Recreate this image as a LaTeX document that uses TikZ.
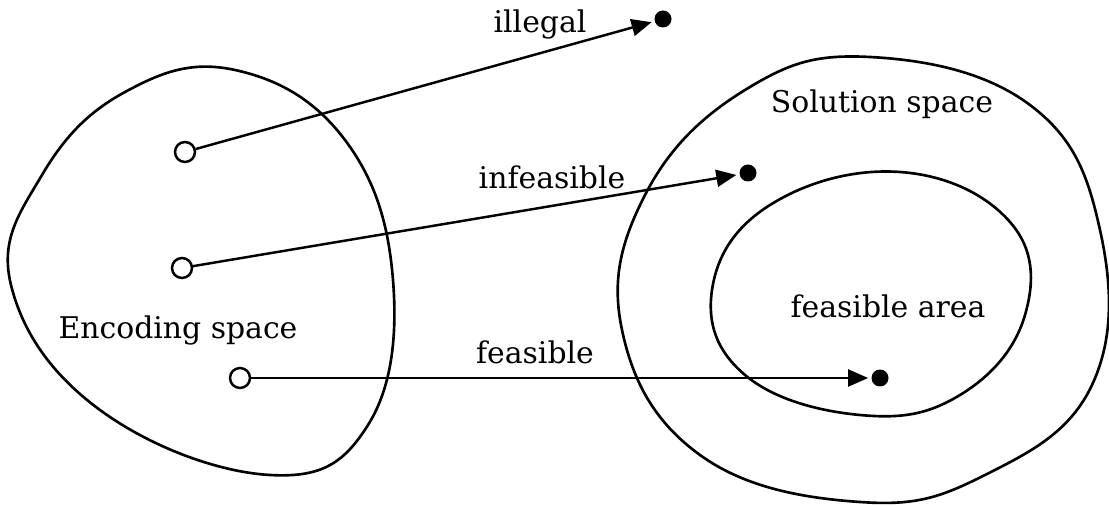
\documentclass[tikz,border=0pt]{standalone}
\usepackage{fontspec}
\setmainfont{DejaVu Serif}
\usetikzlibrary{arrows.meta}

\begin{document}
\begin{tikzpicture}[x=0.02cm,y=-0.02cm,
    region/.style={line width=1.5pt},
    src/.style={circle,draw,line width=1.4pt,fill=white,inner sep=0pt,minimum size=0.4cm},
    dst/.style={circle,fill,inner sep=0pt,minimum size=0.34cm},
    conn/.style={line width=1.4pt,-{Triangle[length=0.4cm,width=0.34cm]},shorten >=0.06cm},
    lbl/.style={font=\fontsize{17}{20}\selectfont}]
  \useasboundingbox (0,0) rectangle (1109,506);
  % encoding space
  \draw[region] plot[smooth cycle,tension=0.7] coordinates {(235,70) (345,140) (393,280)
    (368,425) (270,475) (100,410) (11,285) (42,175) (125,92)};
  % solution space and feasible area
  \draw[region] plot[smooth cycle,tension=0.7] coordinates {(870,57) (1030,105) (1100,230)
    (1092,385) (985,475) (860,502) (700,455) (622,330) (645,195) (745,90)};
  \draw[region] plot[smooth cycle,tension=0.7] coordinates {(900,172) (1010,222) (1025,315)
    (960,395) (860,415) (745,375) (712,290) (770,205)};
  \node[lbl] (encoding) at (178,330) {Encoding space};
  \node[lbl] (solution) at (882,104) {Solution space};
  \node[lbl] (area) at (888,306) {feasible area};
  \node[src] (srcIllegal) at (185,152) {};
  \node[src] (srcInfeasible) at (182,268) {};
  \node[src] (srcFeasible) at (240,378) {};
  \node[dst] (dstIllegal) at (663,19) {};
  \node[dst] (dstInfeasible) at (748,173) {};
  \node[dst] (dstFeasible) at (880,378) {};
  \draw[conn] (srcIllegal) -- (dstIllegal);
  \draw[conn] (srcInfeasible) -- (dstInfeasible);
  \draw[conn] (srcFeasible) -- (dstFeasible);
  \node[lbl] (illegal) at (540,24) {illegal};
  \node[lbl] (infeasible) at (552,177) {infeasible};
  \node[lbl] (feasible) at (535,352) {feasible};
\end{tikzpicture}
\end{document}
